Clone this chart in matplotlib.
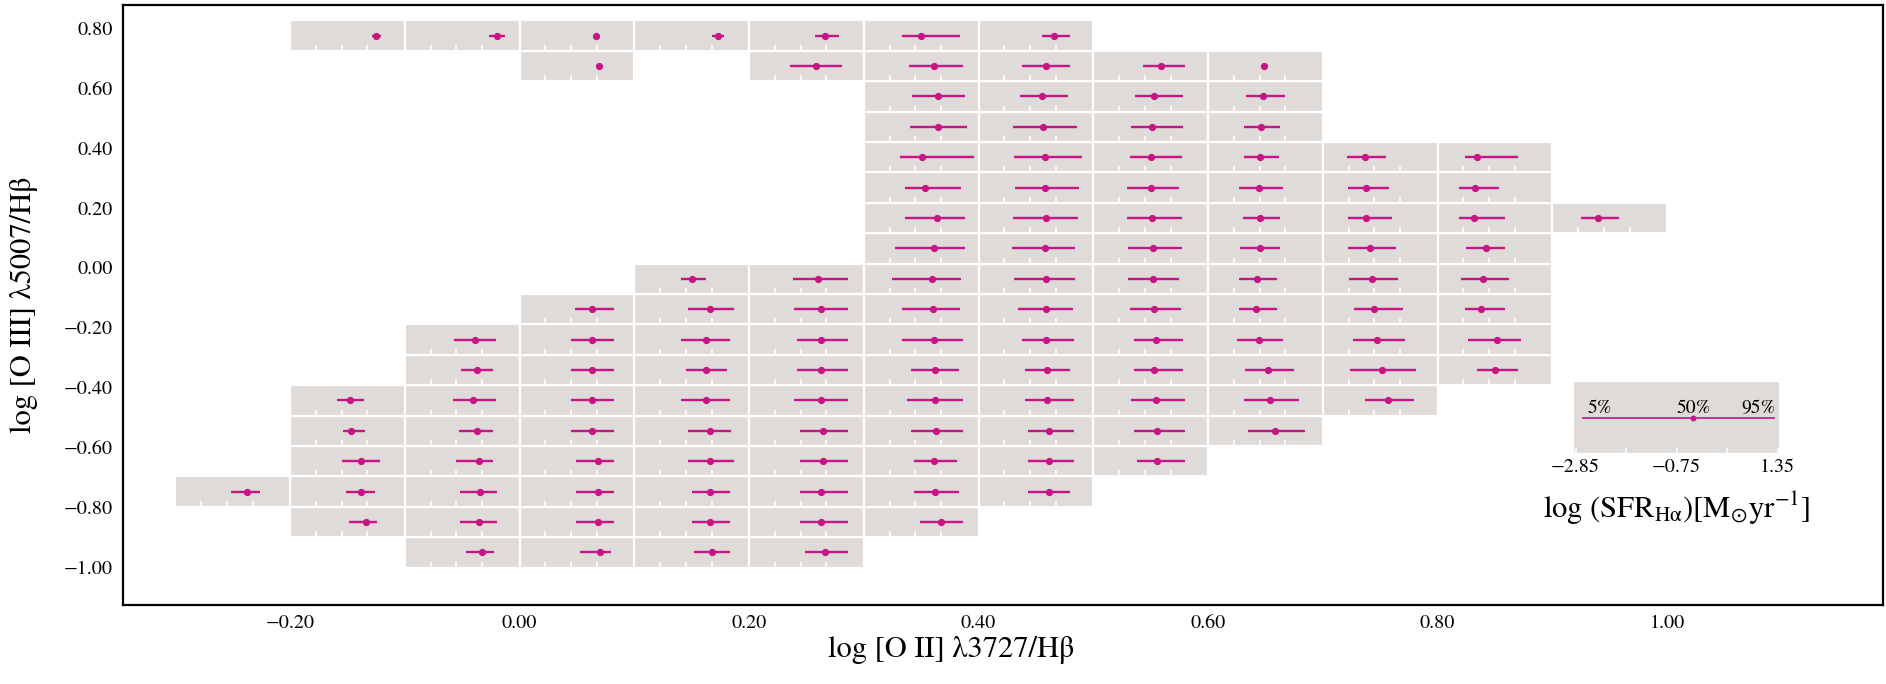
import numpy as np
import matplotlib
matplotlib.use("Agg")
import matplotlib.pyplot as plt
from matplotlib.ticker import FuncFormatter

plt.rcParams['font.family'] = ['STIXGeneral', 'Liberation Serif', 'DejaVu Serif']
plt.rcParams['mathtext.fontset'] = 'stix'

# bin edges of the line-ratio grid
oii_edges = np.round(np.arange(-0.3, 1.0001, 0.1), 2)
oiii_edges = np.linspace(-1.0, 0.826, 19)

# occupied bins, row by row from the bottom: (row, column) and the
# 5th / 50th / 95th percentile of log SFR(Halpha) in each bin
row_idx = ([0] * 4 + [1] * 6 + [2] * 8 + [3] * 8 + [4] * 9 + [5] * 10 + [6] * 10 + [7] * 10
           + [8] * 9 + [9] * 8 + [10] * 6 + [11] * 7 + [12] * 6 + [13] * 6 + [14] * 4
           + [15] * 4 + [16] * 6 + [17] * 7)
col_idx = ([2, 3, 4, 5]
           + [1, 2, 3, 4, 5, 6]
           + [0, 1, 2, 3, 4, 5, 6, 7]
           + [1, 2, 3, 4, 5, 6, 7, 8]
           + [1, 2, 3, 4, 5, 6, 7, 8, 9]
           + [1, 2, 3, 4, 5, 6, 7, 8, 9, 10]
           + [2, 3, 4, 5, 6, 7, 8, 9, 10, 11]
           + [2, 3, 4, 5, 6, 7, 8, 9, 10, 11]
           + [3, 4, 5, 6, 7, 8, 9, 10, 11]
           + [4, 5, 6, 7, 8, 9, 10, 11]
           + [6, 7, 8, 9, 10, 11]
           + [6, 7, 8, 9, 10, 11, 12]
           + [6, 7, 8, 9, 10, 11]
           + [6, 7, 8, 9, 10, 11]
           + [6, 7, 8, 9]
           + [6, 7, 8, 9]
           + [3, 5, 6, 7, 8, 9]
           + [1, 2, 3, 4, 5, 6, 7])
sfr_p05 = ([-0.64, -0.64, -0.69, -0.82]
           + [-0.73, -0.86, -0.82, -0.775, -1.04, -0.82]
           + [-0.84, -0.82, -0.86, -0.82, -0.775, -1.04, -1.04, -1.09]
           + [-1.00, -1.00, -0.82, -0.91, -1.04, -1.04, -1.09, -1.31]
           + [-0.95, -0.91, -1.00, -0.91, -1.04, -1.18, -1.09, -1.44, -1.44]
           + [-1.18, -1.13, -1.00, -1.18, -1.26, -1.31, -1.22, -1.53, -1.62, -1.35]
           + [-0.82, -1.00, -1.00, -1.13, -1.18, -1.22, -1.44, -1.58, -1.93, -1.49]
           + [-1.09, -1.00, -1.18, -1.13, -1.53, -1.31, -1.44, -1.89, -1.84, -1.82]
           + [-0.86, -0.91, -1.26, -1.51, -1.49, -1.58, -1.80, -1.80, -1.93]
           + [-1.18, -1.31, -1.89, -1.62, -1.64, -1.80, -1.98, -2.11]
           + [-1.80, -1.71, -1.665, -1.75, -2.02, -1.89]
           + [-1.40, -1.665, -1.71, -1.665, -2.02, -2.155, -1.89]
           + [-1.40, -1.58, -1.71, -1.80, -2.02, -2.155]
           + [-1.58, -1.62, -1.58, -1.62, -2.065, -1.93]
           + [-1.22, -1.665, -1.53, -1.62]
           + [-1.13, -1.40, -1.40, -1.53]
           + [0.05, -1.40, -1.26, -1.31, -1.09, -0.84]
           + [0.16, 0.25, -0.06, 0.03, -0.46, -1.53, -0.55])
sfr_p50 = ([-0.02, 0.115, 0.03, -0.06]
           + [-0.06, -0.11, 0.03, -0.06, -0.20, -0.02]
           + [-0.24, -0.24, -0.085, 0.03, -0.06, -0.20, -0.24, -0.285]
           + [-0.26, -0.13, 0.03, -0.06, -0.15, -0.285, -0.285, -0.53]
           + [-0.64, -0.20, -0.20, -0.06, -0.15, -0.20, -0.285, -0.53, -0.42]
           + [-0.69, -0.37, -0.20, -0.24, -0.20, -0.24, -0.33, -0.575, -0.60, -0.46]
           + [-0.20, -0.20, -0.24, -0.22, -0.24, -0.33, -0.64, -0.69, -0.69, -0.775]
           + [-0.285, -0.20, -0.24, -0.22, -0.285, -0.37, -0.575, -1.04, -0.91, -0.71]
           + [-0.20, -0.06, -0.22, -0.33, -0.40, -0.64, -1.13, -1.00, -1.31]
           + [-0.775, -0.33, -0.37, -0.40, -0.69, -1.09, -1.09, -1.22]
           + [-0.285, -0.42, -0.69, -1.00, -1.18, -1.13]
           + [-0.15, -0.40, -0.73, -1.00, -1.31, -1.58, -1.22]
           + [-0.64, -0.42, -0.775, -1.04, -1.31, -1.53]
           + [-0.73, -0.42, -0.775, -1.00, -1.35, -1.49]
           + [-0.13, -0.51, -0.73, -0.95]
           + [-0.13, -0.55, -0.64, -0.86]
           + [0.07, -0.42, -0.285, -0.37, -0.37, -0.82]
           + [0.34, 0.56, -0.04, 0.25, -0.06, -0.775, -0.06])
sfr_p95 = ([0.47, 0.56, 0.69, 0.83]
           + [0.38, 0.56, 0.65, 0.69, 0.83, 0.83]
           + [0.27, 0.29, 0.56, 0.65, 0.69, 0.83, 0.69, 0.56]
           + [0.47, 0.43, 0.65, 0.87, 0.83, 0.60, 0.69, 0.56]
           + [-0.11, 0.43, 0.65, 0.74, 0.83, 0.83, 0.69, 0.56, 0.74]
           + [-0.15, 0.52, 0.65, 0.69, 0.83, 0.83, 0.69, 0.56, 0.52, 0.52]
           + [0.43, 0.65, 0.60, 0.83, 0.69, 0.56, 0.47, 0.34, 0.60, 0.115]
           + [0.52, 0.65, 0.69, 0.83, 0.83, 0.69, 0.47, -0.11, 0.20, 0.25]
           + [0.65, 0.87, 0.83, 0.72, 0.65, 0.38, -0.33, 0.115, -0.37]
           + [-0.24, 0.83, 0.78, 0.74, 0.34, -0.33, -0.085, -0.24]
           + [0.92, 0.74, 0.43, -0.20, -0.15, -0.37]
           + [0.92, 0.87, 0.43, -0.20, -0.33, -0.37, -0.42]
           + [0.78, 0.89, 0.34, -0.11, -0.42, -0.60]
           + [1.27, 1.00, 0.43, -0.26, -0.55, 0.115]
           + [1.00, 0.83, 0.47, -0.20]
           + [0.92, 0.47, 0.47, -0.02]
           + [0.09, 0.60, 0.83, 0.56, 0.56, -0.80]
           + [0.52, 0.87, -0.02, 0.47, 0.47, 0.74, 0.56])

# key panel: percentiles of the whole sample and its axis ticks
key_pcts = [-2.71, -0.40, 1.30]
key_pct_names = ['5%', '50%', '95%']
key_ticks = [-2.85, -0.75, 1.35]
key_minor = [-1.8, 0.3]

cell_color = '#dedbd8'
bar_color = 'mediumvioletred'

# two decimals with a proper minus sign, and no "-0.00"
two_dec = FuncFormatter(lambda v, pos: f'{round(v, 2) + 0.0:.2f}'.replace('-', '\u2212'))

fig = plt.figure(figsize=(18.86, 6.84), dpi=100)
ax = fig.add_axes([0.06537, 0.1162, 0.93330, 0.8765])
ax.set_xlim(-0.3454, 1.1886)
ax.set_ylim(-1.1235, 0.8775)
ax.set_xticks(np.round(np.arange(-0.2, 1.01, 0.2), 1))
ax.set_yticks(np.round(np.arange(-1.0, 0.81, 0.2), 1))
ax.xaxis.set_major_formatter(two_dec)
ax.yaxis.set_major_formatter(two_dec)
ax.tick_params(length=0, pad=7.5, labelsize=14.5)
for sp in ax.spines.values():
    sp.set_linewidth(1.6)
ax.set_xlabel(r'log [O II] λ3727/Hβ', fontsize=22)
ax.set_ylabel(r'log [O III] λ5007/Hβ', fontsize=22)
ax.xaxis.set_label_coords(0.470, -0.052)
ax.yaxis.set_label_coords(-0.0485, 0.5)


def style_cell(cax):
    cax.set_facecolor(cell_color)
    for sp in cax.spines.values():
        sp.set_color('white')
        sp.set_linewidth(1.6)
    cax.set_ylim(-1, 1)
    cax.set_yticks([])
    cax.tick_params(axis='x', direction='in', colors='white', length=4, width=1.2,
                    labelbottom=False, which='both')


dx = oii_edges[1] - oii_edges[0]
dy = oiii_edges[1] - oiii_edges[0]
for r, c, lo, med, hi in zip(row_idx, col_idx, sfr_p05, sfr_p50, sfr_p95):
    cax = ax.inset_axes([oii_edges[c], oiii_edges[r], dx, dy], transform=ax.transData)
    style_cell(cax)
    cax.set_xlim(-3.0, 1.45)
    cax.set_xticks([-2, -1, 0])
    cax.plot([lo, hi], [0, 0], color=bar_color, lw=1.7, solid_capstyle='butt')
    cax.plot([med], [0], 'o', color=bar_color, ms=4.2)

# key panel explaining the bars
kax = ax.inset_axes([0.8237, 0.2504, 0.1175, 0.1221])
style_cell(kax)
kax.set_xlim(-2.9, 1.4)
kax.set_xticks(key_ticks)
kax.set_xticks(key_minor, minor=True)
kax.tick_params(axis='x', labelbottom=True, labelcolor='black', labelsize=14.5, pad=3)
kax.xaxis.set_major_formatter(two_dec)
kax.plot([key_pcts[0], key_pcts[2]], [0, 0], color=bar_color, lw=1.2, solid_capstyle='butt')
kax.plot([key_pcts[1]], [0], 'o', color=bar_color, ms=3.2)
for val, name, ha in zip(key_pcts, key_pct_names, ['left', 'center', 'right']):
    off = 4 if ha == 'left' else 0
    kax.annotate(name, (val, 0), xytext=(off, 3.5), textcoords='offset points',
                 ha=ha, va='baseline', fontsize=14)
kax.set_xlabel(r'$\log\,(\mathrm{SFR_{H\alpha}})[\mathrm{M_{\odot}yr^{-1}}]$', fontsize=22, labelpad=10)

fig.savefig('out.png', dpi=100)
